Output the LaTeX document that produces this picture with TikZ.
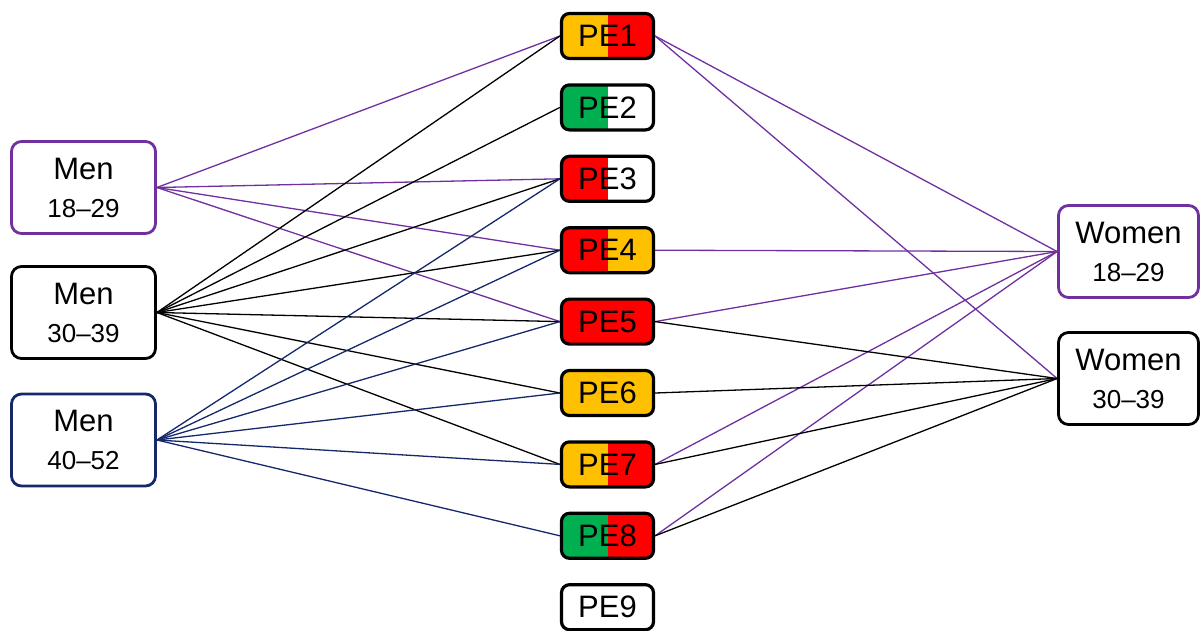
\documentclass[tikz,border=0pt]{standalone}
\usepackage{fontspec}
\setmainfont{Liberation Sans}
\definecolor{grpPurple}{HTML}{7030A0}
\definecolor{grpNavy}{HTML}{14286A}
\definecolor{peOrange}{HTML}{FFC000}
\definecolor{peRed}{HTML}{FF0000}
\definecolor{peGreen}{HTML}{00B050}
\pgfdeclarelayer{background}
\pgfsetlayers{background,main}
\tikzset{
  pebox/.style={draw=black, line width=3.2pt, rounded corners=8pt,
    minimum width=92pt, minimum height=45pt, inner sep=0pt,
    font=\fontsize{31}{31}\selectfont},
  halves/.style 2 args={path picture={
    \fill[#1, sharp corners] (path picture bounding box.south west) rectangle ([xshift=0.3pt]path picture bounding box.north);
    \fill[#2, sharp corners] (path picture bounding box.south) rectangle (path picture bounding box.north east);}},
  grpbox/.style={draw=#1, fill=white, line width=2.8pt, rounded corners=10pt,
    minimum width=144pt, minimum height=92pt, inner sep=0pt, align=center,
    font=\fontsize{31}{38}\selectfont},
  link/.style={draw=#1, line width=1.3pt},
}
\newcommand{\agetext}[1]{{\fontsize{26}{26}\selectfont #1}}
\begin{document}
\begin{tikzpicture}[x=1pt, y=-1pt]
\useasboundingbox (0,0) rectangle (1201,630);

% group boxes on the left
\node[grpbox=grpPurple] (m1) at (83.5,187.5) {Men\\\agetext{18–29}};
\node[grpbox=black]     (m2) at (83.5,312.5) {Men\\\agetext{30–39}};
\node[grpbox=grpNavy]   (m3) at (83.5,440)   {Men\\\agetext{40–52}};

% group boxes on the right
\node[grpbox=grpPurple, minimum width=140pt] (w1) at (1128.5,251.5) {Women\\\agetext{18–29}};
\node[grpbox=black, minimum width=140pt]     (w2) at (1128.5,378.5) {Women\\\agetext{30–39}};

% PE boxes in the middle column
\node[pebox, halves={peOrange}{peRed}]   (p1) at (607.5,36)    {PE1};
\node[pebox, halves={peGreen}{white}]    (p2) at (607.5,107.4) {PE2};
\node[pebox, halves={peRed}{white}]      (p3) at (607.5,178.8) {PE3};
\node[pebox, halves={peRed}{peOrange}]   (p4) at (607.5,250.2) {PE4};
\node[pebox, fill=peRed]                 (p5) at (607.5,321.6) {PE5};
\node[pebox, fill=peOrange]              (p6) at (607.5,393)   {PE6};
\node[pebox, halves={peOrange}{peRed}]   (p7) at (607.5,464.4) {PE7};
\node[pebox, halves={peGreen}{peRed}]    (p8) at (607.5,535.8) {PE8};
\node[pebox, fill=white]                 (p9) at (607.5,607.2) {PE9};

\begin{pgfonlayer}{background}
  % Men 18-29
  \foreach \p in {p1,p3,p4,p5}
    \draw[link=grpPurple] (m1.east) -- (\p.west);
  % Men 30-39
  \foreach \p in {p1,p2,p3,p4,p5,p6,p7}
    \draw[link=black] (m2.east) -- (\p.west);
  % Men 40-52
  \foreach \p in {p3,p4,p5,p6,p7,p8}
    \draw[link=grpNavy] (m3.east) -- (\p.west);
  % Women 18-29
  \foreach \p in {p1,p4,p5,p7,p8}
    \draw[link=grpPurple] (\p.east) -- (w1.west);
  % Women 30-39
  \draw[link=grpPurple] (p1.east) -- (w2.west);
  \foreach \p in {p5,p6,p7,p8}
    \draw[link=black] (\p.east) -- (w2.west);
\end{pgfonlayer}
\end{tikzpicture}
\end{document}
